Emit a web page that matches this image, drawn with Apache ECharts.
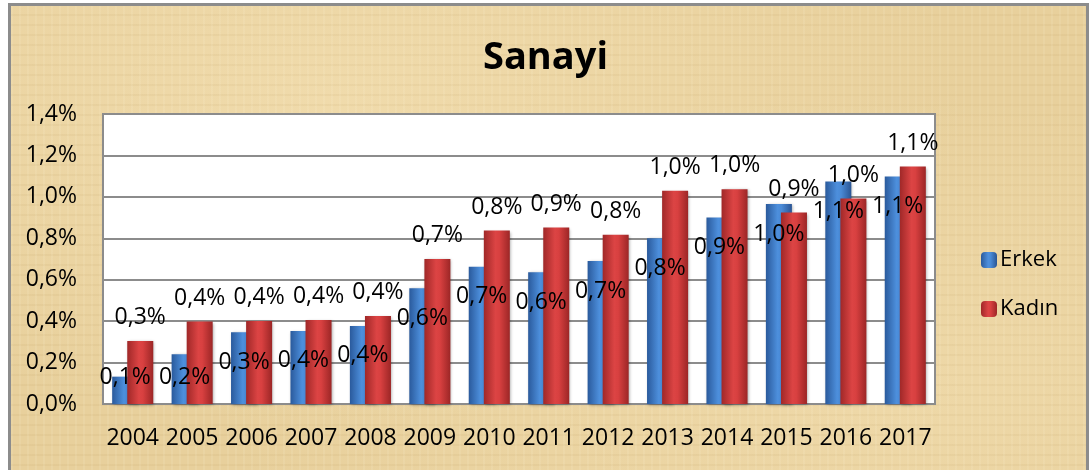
<!DOCTYPE html>
<html>
<head>
<meta charset="utf-8">
<script src="https://cdn.jsdelivr.net/npm/echarts@6/dist/echarts.min.js"></script>
<style>
  html, body { margin: 0; padding: 0; background: #ffffff; }
  #wrap { position: relative; width: 1091px; height: 470px; overflow: hidden; }
  #bg {
    position: absolute; left: 8px; top: 3px; width: 1075px; height: 480px;
    border: 3px solid #8c8c8c;
    background-color: #e8d09c;
    background-image:
      repeating-linear-gradient(90deg, rgba(255,250,225,0.10) 0px, rgba(255,250,225,0.10) 2px, rgba(0,0,0,0) 2px, rgba(0,0,0,0) 8px),
      repeating-linear-gradient(0deg, rgba(150,110,40,0.06) 0px, rgba(150,110,40,0.06) 2px, rgba(0,0,0,0) 2px, rgba(0,0,0,0) 10px),
      radial-gradient(ellipse at 30% 20%, rgba(250,232,190,0.45), rgba(0,0,0,0) 60%),
      radial-gradient(ellipse at 80% 80%, rgba(250,232,190,0.35), rgba(0,0,0,0) 55%);
  }
  #chart { position: absolute; left: 0; top: 0; width: 1091px; height: 470px; }
</style>
</head>
<body>
<div id="wrap">
  <div id="bg"></div>
  <div id="chart"></div>
</div>
<script>
const years = ['2004','2005','2006','2007','2008','2009','2010','2011','2012','2013','2014','2015','2016','2017'];
const erkek = [0.132, 0.24, 0.346, 0.353, 0.377, 0.559, 0.663, 0.636, 0.69, 0.80, 0.90, 0.965, 1.074, 1.098];
const kadin = [0.304, 0.398, 0.401, 0.406, 0.425, 0.70, 0.837, 0.852, 0.817, 1.03, 1.037, 0.924, 0.992, 1.146];
const yMin = 0, yMax = 1.4, yStep = 0.2;

const FONT = 'Open Sans';
const fmt = v => v.toFixed(1).replace('.', ',') + '%';

const blueGrad = new echarts.graphic.LinearGradient(0, 0, 1, 0, [
  {offset: 0, color: '#2a5a9c'},
  {offset: 0.45, color: '#4d8fdc'},
  {offset: 0.6, color: '#4a8ad6'},
  {offset: 1, color: '#2a5594'}
]);
const redGrad = new echarts.graphic.LinearGradient(0, 0, 1, 0, [
  {offset: 0, color: '#a02828'},
  {offset: 0.45, color: '#dc4444'},
  {offset: 0.6, color: '#d84040'},
  {offset: 1, color: '#9c2626'}
]);

const chart = echarts.init(document.getElementById('chart'), null, {renderer: 'canvas'});

function erkekData(pxPerUnit) {
  return erkek.map(v => {
    const h = v * pxPerUnit;
    const off = Math.min(30, h - 27);
    return {value: v, label: {position: ['50%', off]}};
  });
}

const option = {
  backgroundColor: 'transparent',
  animation: false,
  title: {
    text: 'Sanayi', left: 'center', top: 31,
    textStyle: {fontFamily: FONT, fontSize: 38, fontWeight: 'bold', color: '#000', lineHeight: 44}
  },
  legend: {
    orient: 'vertical', left: 976, top: 244,
    itemWidth: 16, itemHeight: 16, itemGap: 27,
    textStyle: {fontFamily: FONT, fontSize: 22, color: '#000', lineHeight: 22, padding: [0,0,0,-2]},
    data: ['Erkek', 'Kadın']
  },
  grid: {
    left: 103, top: 114, right: 156, bottom: 66,
    show: true, backgroundColor: '#ffffff', borderColor: '#8c8c8c', borderWidth: 2
  },
  xAxis: {
    type: 'category', data: years,
    axisLine: {show: true, lineStyle: {color: '#8c8c8c', width: 2}},
    axisTick: {show: false},
    axisLabel: {fontFamily: FONT, fontSize: 23, color: '#000', margin: 23, interval: 0}
  },
  yAxis: {
    type: 'value', min: yMin, max: yMax, interval: yStep,
    axisLine: {show: false}, axisTick: {show: false},
    splitLine: {lineStyle: {color: '#8c8c8c', width: 2}},
    axisLabel: {fontFamily: FONT, fontSize: 23, color: '#000', margin: 26, formatter: v => fmt(v)}
  },
  series: [
    {
      name: 'Erkek', type: 'bar', data: erkekData(207),
      barWidth: 26, barGap: '-42%',
      itemStyle: {color: blueGrad, shadowColor: 'rgba(0,0,0,0.35)', shadowBlur: 3, shadowOffsetX: 1, shadowOffsetY: 1},
      label: {
        show: true, fontFamily: FONT, fontSize: 23, color: '#000',
        align: 'center', verticalAlign: 'middle',
        formatter: p => fmt(p.value)
      }
    },
    {
      name: 'Kadın', type: 'bar', data: kadin,
      barWidth: 26,
      itemStyle: {color: redGrad, shadowColor: 'rgba(0,0,0,0.35)', shadowBlur: 3, shadowOffsetX: 1, shadowOffsetY: 1},
      label: {
        show: true, position: 'top', distance: 12, fontFamily: FONT, fontSize: 23, color: '#000',
        formatter: p => fmt(p.value)
      }
    }
  ]
};
chart.setOption(option);

// refine Erkek label offsets using the library's own scale
const y0 = chart.convertToPixel({yAxisIndex: 0}, 0);
const y1 = chart.convertToPixel({yAxisIndex: 0}, 1);
const ppu = y0 - y1;
chart.setOption({series: [{name: 'Erkek', data: erkekData(ppu)}]});
</script>
</body>
</html>
